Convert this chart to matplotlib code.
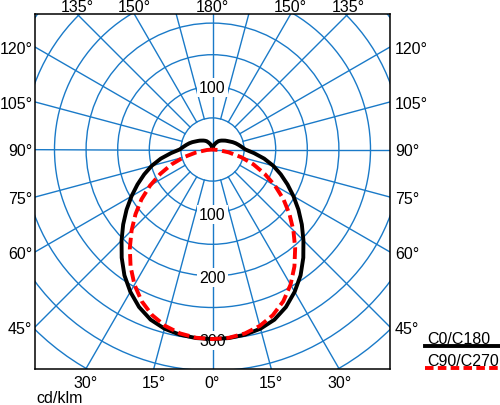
import numpy as np
import matplotlib
matplotlib.use('Agg')
import matplotlib.pyplot as plt
from matplotlib.patches import Circle
from matplotlib.lines import Line2D

plt.rcParams['font.family'] = ['Liberation Sans', 'DejaVu Sans']

# luminous intensity (cd/klm) vs gamma angle, symmetric halves
gamma_c0 = list(range(0, 181, 5))
c0_c180 = [300, 299.5, 297.5, 293.5, 286.5, 275, 260, 243, 223.5, 203.5,
           184.5, 166, 148, 131, 115, 99.5, 83, 66, 52, 46.5,
           42, 38, 34, 30, 27, 24.5, 22, 20, 18, 16,
           13, 10.5, 8, 6, 5, 4, 3]
gamma_c90 = list(range(0, 91, 5))
c90_c270 = [300, 299, 295.5, 289, 279, 265, 247, 226, 203.5, 181,
            159, 137, 114, 91, 69, 47, 26, 9, 0]

ring_values = [50, 100, 150, 200, 250, 300, 350, 400, 450]
labels_down = [100, 200, 300]
labels_up = [100]
angle_labels = [0, 15, 30, 45, 60, 75, 90, 105, 120, 135, 150, 180]

blue = '#1a7ac8'
fs = 11.5

fig = plt.figure(figsize=(5, 4.06), dpi=100)
ax = fig.add_axes([35/500, 36/406, 355/500, 355/406])
s = 0.632  # px per cd/klm
x0, x1 = -177.5/s, 177.5/s
y0, y1 = -219.5/s, 135.5/s
ax.set_xlim(x0, x1)
ax.set_ylim(y0, y1)
ax.set_xticks([])
ax.set_yticks([])
for sp in ax.spines.values():
    sp.set_linewidth(1.1)
    sp.set_zorder(10)

# grid
for r in ring_values:
    ax.add_patch(Circle((0, 0), r, fill=False, ec=blue, lw=1.0, zorder=1))
for a in range(0, 360, 15):
    t = np.radians(a)
    r0 = 0 if a % 90 == 0 else 50
    ax.plot([r0*np.sin(t), 700*np.sin(t)], [-r0*np.cos(t), -700*np.cos(t)],
            color=blue, lw=1.0, zorder=1)

# ring labels
bb = dict(boxstyle='square,pad=0.12', fc='white', ec='none')
for v in labels_down:
    ax.text(0, -v, str(v), ha='center', va='center_baseline', fontsize=fs,
            bbox=bb, zorder=3)
for v in labels_up:
    ax.text(0, v, str(v), ha='center', va='center_baseline', fontsize=fs,
            bbox=bb, zorder=3)

# angle labels on the frame
def edge_hit(dx, dy):
    cands = []
    if dx > 1e-9: cands.append((x1/dx, 'right'))
    if dx < -1e-9: cands.append((x0/dx, 'left'))
    if dy > 1e-9: cands.append((y1/dy, 'top'))
    if dy < -1e-9: cands.append((y0/dy, 'bottom'))
    t, side = min(cands)
    return t*dx, t*dy, side

for g in angle_labels:
    for sg in ([1] if g in (0, 180) else [-1, 1]):
        t = np.radians(g)
        px, py, side = edge_hit(sg*np.sin(t), -np.cos(t))
        if side == 'top':
            off, ha = (0, 2.5), 'center'
        elif side == 'bottom':
            off, ha = (0, -18), 'center'
        elif side == 'left':
            off, ha = (-2.5, -6), 'right'
        else:
            off, ha = (5, -6), 'left'
        ax.annotate('%d°' % g, (px, py), xytext=off, textcoords='offset pixels',
                    ha=ha, va='baseline', fontsize=fs, annotation_clip=False)

def curve(g, v):
    g = np.radians(np.array(g, dtype=float))
    v = np.array(v, dtype=float)
    xr = v*np.sin(g)
    yr = -v*np.cos(g)
    return np.concatenate([-xr[::-1], xr[1:]]), np.concatenate([yr[::-1], yr[1:]])

bx, by = curve(gamma_c0, c0_c180)
ax.plot(bx, by, color='black', lw=2.8, zorder=5, solid_joinstyle='round')
rx, ry = curve(gamma_c90, c90_c270)
ax.plot(rx, ry, color='#ff0000', lw=2.8, ls=(0, (3, 1.2)), zorder=6)

# legend / unit
fig.text(36/500, 3/406, 'cd/klm', fontsize=fs, va='baseline')
fig.text(427/500, 1-343.5/406, 'C0/C180', fontsize=fs, va='baseline')
fig.text(427/500, 1-366.5/406, 'C90/C270', fontsize=fs, va='baseline')
fig.add_artist(Line2D([425/500, 1.0], [1-346.5/406]*2, color='black', lw=2.8))
fig.add_artist(Line2D([425/500, 1.0], [1-368.5/406]*2, color='#ff0000', lw=2.8,
                      ls=(0, (2.2, 1.1))))

fig.savefig('out.png', dpi=100)
